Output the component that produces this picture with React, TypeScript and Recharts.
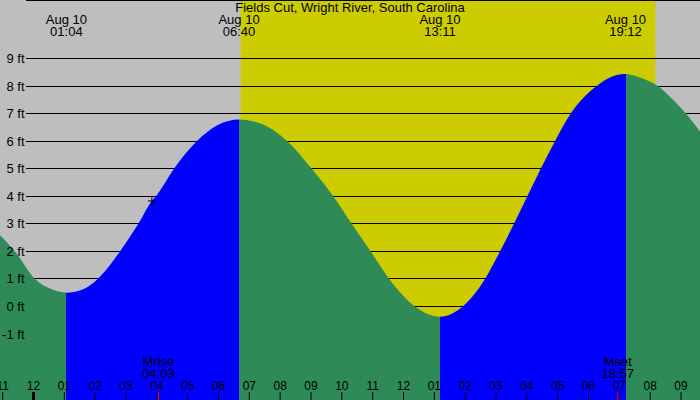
import React from 'react';
import {
  ComposedChart,
  Area,
  XAxis,
  YAxis,
  CartesianGrid,
  ReferenceArea,
  ReferenceDot,
} from 'recharts';

const W = 700;
const H = 400;
const FONT = '"Liberation Sans", Arial, Helvetica, sans-serif';

const NIGHT = '#BEBEBE';
const DAY = '#CCCC00';
const FLOOD = '#0000FF';
const EBB = '#2E8B57';

const title = 'Fields Cut, Wright River, South Carolina';
const dateLabel = 'Aug 10';

// tide curve: hours after midnight Aug 10, height in ft
const tideHours = [
  -1.0865, -0.6, 0.049, 0.55, 1.0667, 1.573, 2.082, 2.805, 3.399, 3.84, 3.973, 4.557,
  5.293, 5.98, 6.6667, 7.41, 8.231, 9.023, 9.723, 10.32, 10.936, 11.539, 12.373,
  13.1833, 13.92, 14.643, 15.13, 15.584, 16.015, 16.45, 16.914, 17.423, 18.266,
  18.71, 19.2, 19.73, 20.25, 20.75, 21.16, 21.616,
];
const tideFeet = [
  2.59, 2.0, 1.0, 0.64, 0.5, 0.61, 1.0, 2.0, 3.0, 3.83, 4.0, 5.0,
  6.0, 6.59, 6.79, 6.62, 6.0, 5.0, 4.0, 3.0, 2.0, 1.0, 0.0,
  -0.37, 0.0, 1.0, 2.0, 3.0, 4.0, 5.0, 6.0, 7.0, 8.0,
  8.32, 8.44, 8.28, 8.0, 7.49, 7.0, 6.35,
];

const extremeHours = [1.0667, 6.6667, 13.1833, 19.2];
const extremeLabels = ['01:04', '06:40', '13:11', '19:12'];
const extremeKinds = ['low', 'high', 'low', 'high'];

const hourTicks = [
  -1, 0, 1, 2, 3, 4, 5, 6, 7, 8, 9, 10, 11, 12, 13, 14, 15, 16, 17, 18, 19, 20, 21,
];
const hourLabels = [
  '11', '12', '01', '02', '03', '04', '05', '06', '07', '08', '09', '10', '11',
  '12', '01', '02', '03', '04', '05', '06', '07', '08', '09',
];

const feetTicks = [-1, 0, 1, 2, 3, 4, 5, 6, 7, 8, 9];
const yDomain = [-3.393, 11.123];

const moonHours = [4.05, 18.95];
const moonNames = ['Mrise', 'Mset'];
const moonLabels = ['04:03', '18:57'];

const sunriseHour = 6.72;
const sunsetHour = 20.17;

const nowHour = 3.84;
const nowFeet = 3.83;

const tide = tideHours.map((t, i) => ({ t, ft: tideFeet[i] }));
const tMin = tideHours[0];
const tMax = tideHours[tideHours.length - 1];
const frac = (t: number) => (t - tMin) / (tMax - tMin);

const stops: { o: number; c: string }[] = [];
{
  let color = extremeKinds[0] === 'low' ? EBB : FLOOD;
  stops.push({ o: 0, c: color });
  extremeHours.forEach((t, i) => {
    const o = frac(t);
    stops.push({ o, c: color });
    color = extremeKinds[i] === 'low' ? FLOOD : EBB;
    stops.push({ o, c: color });
  });
  stops.push({ o: 1, c: color });
}

const HourTick = (props: any) => {
  const { x, payload } = props;
  const i = hourTicks.indexOf(payload.value);
  return (
    <g>
      <line
        x1={x}
        x2={x}
        y1={H - 8}
        y2={H}
        stroke="#000"
        strokeWidth={payload.value === 0 ? 3 : 1}
      />
      <text x={x} y={H - 10.5} textAnchor="middle" fontSize={12} fontFamily={FONT} fill="#000">
        {hourLabels[i]}
      </text>
    </g>
  );
};

const MoonTick = (props: any) => {
  const { x, payload } = props;
  const i = moonHours.indexOf(payload.value);
  return (
    <g>
      <line x1={x} x2={x} y1={H - 8} y2={H} stroke="#FF0000" strokeWidth={1} />
      <text x={x} y={H - 34} textAnchor="middle" fontSize={13} fontFamily={FONT} fill="#000">
        {moonNames[i]}
      </text>
      <text x={x} y={H - 22.5} textAnchor="middle" fontSize={13} fontFamily={FONT} fill="#000">
        {moonLabels[i]}
      </text>
    </g>
  );
};

const ExtremeTick = (props: any) => {
  const { x, payload } = props;
  const i = extremeHours.indexOf(payload.value);
  return (
    <g>
      <text x={x} y={24} textAnchor="middle" fontSize={13} fontFamily={FONT} fill="#000">
        {dateLabel}
      </text>
      <text x={x} y={35.5} textAnchor="middle" fontSize={13} fontFamily={FONT} fill="#000">
        {extremeLabels[i]}
      </text>
    </g>
  );
};

const FeetTick = (props: any) => {
  const { y, payload } = props;
  return (
    <text x={24.5} y={y + 4.5} textAnchor="end" fontSize={13} fontFamily={FONT} fill="#000">
      {`${payload.value} ft`}
    </text>
  );
};

const gridLine = (p: any) => (
  <line
    key={`g-${p.index}-${p.y1}`}
    x1={p.x1}
    x2={p.x2}
    y1={p.y1}
    y2={p.y2}
    stroke="#000"
    strokeWidth={1}
    shapeRendering="crispEdges"
  />
);

const Plus = (p: any) => (
  <g>
    <line x1={p.cx - 4} x2={p.cx + 4} y1={p.cy} y2={p.cy} stroke="#000" strokeWidth={1} />
    <line x1={p.cx} x2={p.cx} y1={p.cy - 5} y2={p.cy + 5} stroke="#000" strokeWidth={1} />
  </g>
);

export default function App() {
  return (
    <div
      style={{
        position: 'absolute',
        left: 0,
        top: 0,
        width: W,
        height: H,
        background: NIGHT,
        overflow: 'hidden',
      }}
    >
      <ComposedChart
        width={W}
        height={H}
        data={tide}
        margin={{ top: 0, right: 0, bottom: 0, left: 0 }}
      >
        <defs>
          <linearGradient id="tideFill" x1="0" y1="0" x2="1" y2="0">
            {stops.map((s, i) => (
              <stop key={i} offset={s.o} stopColor={s.c} stopOpacity={1} />
            ))}
          </linearGradient>
        </defs>
        <XAxis
          dataKey="t"
          type="number"
          domain={[tMin, tMax]}
          ticks={hourTicks}
          interval={0}
          orientation="bottom"
          mirror
          axisLine={false}
          tickLine={false}
          tick={HourTick}
        />
        <XAxis
          xAxisId="moon"
          dataKey="t"
          type="number"
          domain={[tMin, tMax]}
          ticks={moonHours}
          interval={0}
          orientation="bottom"
          mirror
          axisLine={false}
          tickLine={false}
          tick={MoonTick}
        />
        <XAxis
          xAxisId="top"
          dataKey="t"
          type="number"
          domain={[tMin, tMax]}
          ticks={extremeHours}
          interval={0}
          orientation="top"
          mirror
          axisLine={false}
          tickLine={false}
          tick={ExtremeTick}
        />
        <YAxis
          type="number"
          domain={yDomain}
          ticks={feetTicks}
          interval={0}
          allowDataOverflow
          mirror
          axisLine={false}
          tickLine={false}
          tick={FeetTick}
        />
        <ReferenceArea
          x1={sunriseHour}
          x2={sunsetHour}
          fill={DAY}
          fillOpacity={1}
          stroke="none"
          ifOverflow="visible"
          zIndex={-300}
        />
        <CartesianGrid
          x={26}
          width={W - 26}
          vertical={false}
          horizontal={gridLine}
          stroke="#000"
          zIndex={-200}
        />
        <Area
          dataKey="ft"
          type="monotone"
          baseValue="dataMin"
          stroke="none"
          fill="url(#tideFill)"
          fillOpacity={1}
          dot={false}
          activeDot={false}
          isAnimationActive={false}
          zIndex={100}
        />
        <ReferenceDot x={nowHour} y={nowFeet} r={5} shape={Plus} ifOverflow="visible" zIndex={600} />
      </ComposedChart>
      <div
        style={{
          position: 'absolute',
          left: 0,
          top: 0,
          width: W,
          textAlign: 'center',
          fontFamily: FONT,
          fontSize: 13,
          lineHeight: '15px',
          color: '#000',
          pointerEvents: 'none',
        }}
      >
        {title}
      </div>
    </div>
  );
}
